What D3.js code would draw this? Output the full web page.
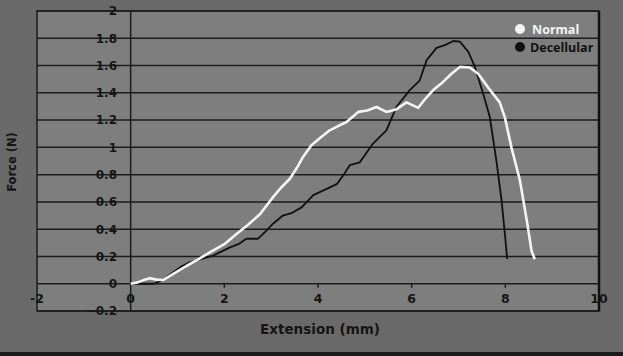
<!DOCTYPE html>
<html><head><meta charset="utf-8">
<script src="https://cdn.jsdelivr.net/npm/d3@7"></script>
<style>html,body{margin:0;padding:0;background:#6a6a6a;}svg{display:block;}</style>
</head><body>
<svg id="c" width="623" height="356"></svg>
<script>
const normalX = [0,0.15,0.3,0.41,0.55,0.69,0.9,1.19,1.45,1.69,2.0,2.26,2.5,2.76,3.04,3.2,3.40,3.55,3.68,3.86,4.05,4.25,4.45,4.61,4.86,5.05,5.25,5.46,5.68,5.89,6.14,6.3,6.46,6.67,6.85,7.03,7.24,7.42,7.63,7.88,7.99,8.13,8.31,8.46,8.56,8.63];
const normalY = [0,0.01,0.03,0.04,0.03,0.027,0.07,0.13,0.18,0.23,0.29,0.365,0.43,0.51,0.635,0.70,0.77,0.85,0.93,1.015,1.07,1.125,1.16,1.186,1.26,1.27,1.296,1.26,1.28,1.33,1.29,1.36,1.42,1.48,1.54,1.59,1.586,1.54,1.44,1.33,1.22,1.0,0.76,0.46,0.24,0.18];
const decelX = [0,0.2,0.5,0.69,0.9,1.1,1.26,1.5,1.76,2.12,2.3,2.47,2.72,2.9,3.04,3.25,3.45,3.65,3.90,4.15,4.40,4.55,4.68,4.89,5.18,5.46,5.68,5.96,6.17,6.32,6.53,6.71,6.89,7.03,7.21,7.35,7.53,7.67,7.81,7.92,7.99,8.04];
const decelY = [0,0.0,0.0,0.03,0.083,0.13,0.157,0.18,0.206,0.267,0.29,0.33,0.33,0.39,0.44,0.50,0.52,0.56,0.65,0.69,0.73,0.80,0.87,0.89,1.03,1.125,1.30,1.42,1.49,1.64,1.73,1.75,1.78,1.775,1.70,1.59,1.39,1.22,0.90,0.61,0.365,0.18];
const xTicks = [-2,0,2,4,6,8,10];
const yTicks = [-0.2,0,0.2,0.4,0.6,0.8,1,1.2,1.4,1.6,1.8,2];
const seriesNames = ["Normal","Decellular"];

const svg = d3.select("#c");
const x = d3.scaleLinear().domain([-2,10]).range([37,599]);
const y = d3.scaleLinear().domain([-0.2,2]).range([311,11]);
const font = "'DejaVu Sans', Verdana, sans-serif";
const ink = "#151515";

svg.append("rect").attr("width",623).attr("height",356).attr("fill","#6a6a6a");
svg.append("rect").attr("x",0).attr("y",352).attr("width",623).attr("height",4).attr("fill","#1a1a1a");
svg.append("rect").attr("x",x(-2)).attr("y",y(2)).attr("width",x(10)-x(-2)).attr("height",y(-0.2)-y(2))
  .attr("fill","#7e7e7e").attr("stroke","#1c1c1c").attr("stroke-width",1.5);
svg.append("line").attr("x1",x(10)).attr("x2",x(10)).attr("y1",y(2)).attr("y2",y(-0.2))
  .attr("stroke","#111").attr("stroke-width",2.5);

// horizontal gridlines
svg.append("g").selectAll("line").data(yTicks).join("line")
  .attr("x1",x(-2)).attr("x2",x(10)).attr("y1",d=>y(d)).attr("y2",d=>y(d))
  .attr("stroke","#1c1c1c").attr("stroke-width",1.5);
// vertical axis at x=0
svg.append("line").attr("x1",x(0)).attr("x2",x(0)).attr("y1",y(2)).attr("y2",y(-0.2))
  .attr("stroke","#1c1c1c").attr("stroke-width",1.5);
// x ticks
svg.append("g").selectAll("line").data(xTicks.filter(d=>d>0 && d<10)).join("line")
  .attr("x1",d=>x(d)).attr("x2",d=>x(d)).attr("y1",y(0)).attr("y2",y(0)+4)
  .attr("stroke","#1c1c1c").attr("stroke-width",1.5);

// y labels
svg.append("g").selectAll("text").data(yTicks).join("text")
  .attr("x",117).attr("y",d=>y(d)).attr("dy","0.36em").attr("text-anchor","end")
  .attr("font-family",font).attr("font-weight","bold").attr("font-size",12).attr("fill",ink)
  .text(d=>d===0?"0":d3.format("~g")(d));
// x labels
svg.append("g").selectAll("text").data(xTicks).join("text")
  .attr("x",d=>x(d)).attr("y",y(0)+15).attr("dy","0.36em").attr("text-anchor","middle")
  .attr("font-family",font).attr("font-weight","bold").attr("font-size",12.5).attr("fill",ink)
  .text(d=>d);

// titles
svg.append("text").attr("x",320).attr("y",329).attr("dy","0.36em").attr("text-anchor","middle")
  .attr("font-family",font).attr("font-weight","bold").attr("font-size",13.5).attr("fill",ink)
  .text("Extension (mm)");
svg.append("text").attr("transform","translate(12,162) rotate(-90)").attr("dy","0.36em").attr("text-anchor","middle")
  .attr("font-family",font).attr("font-weight","bold").attr("font-size",11.5).attr("fill",ink)
  .text("Force (N)");

const line = d3.line().x(d=>x(d[0])).y(d=>y(d[1])).curve(d3.curveLinear);
svg.append("path").datum(decelX.map((v,i)=>[v,decelY[i]])).attr("d",line)
  .attr("fill","none").attr("stroke","#111").attr("stroke-width",1.8).attr("stroke-linejoin","round");
svg.append("path").datum(normalX.map((v,i)=>[v,normalY[i]])).attr("d",line)
  .attr("fill","none").attr("stroke","#f4f4f4").attr("stroke-width",2.6).attr("stroke-linejoin","round");

// legend
const legColors = ["#f4f4f4","#111"];
const leg = svg.append("g").selectAll("g").data(seriesNames).join("g")
  .attr("transform",(d,i)=>`translate(520,${29+i*18})`);
leg.append("circle").attr("r",5).attr("fill",(d,i)=>legColors[i]);
leg.append("text").attr("x",(d,i)=>i===0?12:10).attr("dy","0.36em")
  .attr("font-family","'Open Sans', sans-serif").attr("font-weight","bold").attr("font-size",12.5)
  .attr("fill",(d,i)=>legColors[i]).text(d=>d);
</script>
</body></html>
